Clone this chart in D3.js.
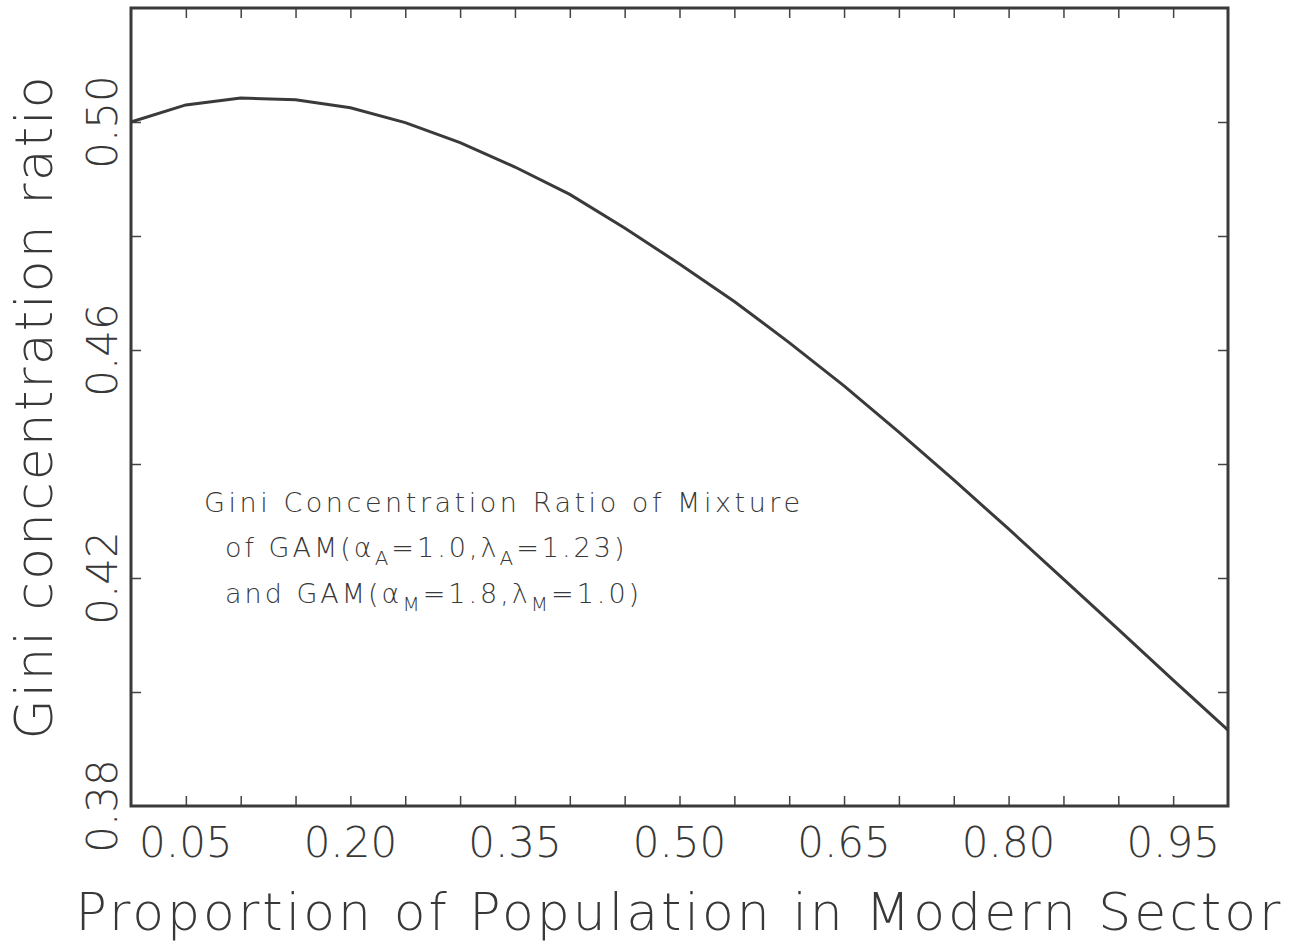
<!DOCTYPE html>
<html>
<head>
<meta charset="utf-8">
<script src="https://cdn.jsdelivr.net/npm/d3@7"></script>
<style>
  body { margin: 0; background: #fff; }
  text { font-family: "DejaVu Sans", sans-serif; font-weight: 200; fill: #383838; }
</style>
</head>
<body>
<script>
// proportion of population in modern sector
var share = [0, 0.05, 0.10, 0.15, 0.20, 0.25, 0.30, 0.35, 0.40, 0.45, 0.50,
             0.55, 0.60, 0.65, 0.70, 0.75, 0.80, 0.85, 0.90, 0.95, 1.0];
// gini concentration ratio of the mixture
var gini = [0.5000, 0.5030, 0.5042, 0.5039, 0.5025, 0.4999, 0.4964, 0.4921, 0.4873, 0.4814, 0.4751,
            0.4685, 0.4613, 0.4537, 0.4456, 0.4372, 0.4286, 0.4198, 0.4110, 0.4021, 0.3933];

var xTickValues = [0.05, 0.10, 0.15, 0.20, 0.25, 0.30, 0.35, 0.40, 0.45, 0.50,
                   0.55, 0.60, 0.65, 0.70, 0.75, 0.80, 0.85, 0.90, 0.95];
var xLabelValues = [0.05, 0.20, 0.35, 0.50, 0.65, 0.80, 0.95];
var yTickValues = [0.40, 0.42, 0.44, 0.46, 0.48, 0.50];
var yLabelValues = [0.38, 0.42, 0.46, 0.50];

var noteLines = ["Gini Concentration Ratio of Mixture",
                 "of GAM(", "and GAM("];

var width = 1302,
    height = 947;

var svg = d3.select("body")
    .append("svg")
    .attr("width", width)
    .attr("height", height);

//plot frame (pixel edges)
var frameL = 131, frameR = 1228, frameT = 8, frameB = 806;

var x = d3.scaleLinear().domain([0, 1]).range([frameL, frameR]);
var y = d3.scaleLinear().domain([0.38, 0.52]).range([frameB, frameT]);

//ticks pointing inward on all four sides
svg.append("g")
    .attr("transform", "translate(0," + frameB + ")")
    .call(d3.axisBottom(x).tickValues(xTickValues).tickSize(-10).tickFormat(""));
svg.append("g")
    .attr("transform", "translate(0," + frameT + ")")
    .call(d3.axisTop(x).tickValues(xTickValues).tickSize(-10).tickFormat(""));
svg.append("g")
    .attr("transform", "translate(" + frameL + ",0)")
    .call(d3.axisLeft(y).tickValues(yTickValues).tickSize(-10).tickFormat(""));
svg.append("g")
    .attr("transform", "translate(" + frameR + ",0)")
    .call(d3.axisRight(y).tickValues(yTickValues).tickSize(-10).tickFormat(""));

svg.selectAll(".domain").remove();
svg.selectAll(".tick line").attr("stroke", "#444").attr("stroke-width", 1.5);

svg.append("rect")
    .attr("x", frameL).attr("y", frameT)
    .attr("width", frameR - frameL).attr("height", frameB - frameT)
    .attr("fill", "none")
    .attr("stroke", "#3a3a3a")
    .attr("stroke-width", 3);

//tick labels
svg.selectAll(".xlab")
    .data(xLabelValues)
    .enter()
    .append("text")
    .attr("class", "xlab")
    .attr("x", function(d){ return x(d); })
    .attr("y", 857)
    .attr("text-anchor", "middle")
    .attr("font-size", 42)
    .text(function(d){ return d.toFixed(2); });

svg.selectAll(".ylab")
    .data(yLabelValues)
    .enter()
    .append("text")
    .attr("class", "ylab")
    .attr("transform", function(d){ return "translate(117," + y(d) + ") rotate(-90)"; })
    .attr("text-anchor", "middle")
    .attr("font-size", 42)
    .text(function(d){ return d.toFixed(2); });

//axis titles
svg.append("text")
    .attr("x", 678)
    .attr("y", 930)
    .attr("text-anchor", "middle")
    .attr("font-size", 52)
    .attr("textLength", 1205)
    .attr("lengthAdjust", "spacing")
    .text("Proportion of Population in Modern Sector");

svg.append("text")
    .attr("transform", "translate(52,408) rotate(-90)")
    .attr("text-anchor", "middle")
    .attr("font-size", 52)
    .attr("textLength", 663)
    .attr("lengthAdjust", "spacing")
    .text("Gini concentration ratio");

//the curve
var line = d3.line()
    .x(function(d, i){ return x(share[i]); })
    .y(function(d){ return y(d); });

svg.append("path")
    .datum(gini)
    .attr("fill", "none")
    .attr("stroke", "#3a3a3a")
    .attr("stroke-width", 3)
    .attr("d", line);

//annotation
var note = svg.append("g").attr("font-size", 27);

note.append("text")
    .attr("x", 204).attr("y", 512)
    .attr("textLength", 596)
    .attr("lengthAdjust", "spacing")
    .text(noteLines[0]);

function gamLine(yPos, start, sub, a, l){
    var t = note.append("text")
        .attr("x", 225).attr("y", yPos)
        .attr("letter-spacing", 3);
    t.append("tspan").text(start + "\u03b1");
    t.append("tspan").attr("font-size", 20).attr("dy", 8).text(sub);
    t.append("tspan").attr("dy", -8).text("=" + a + ",\u03bb");
    t.append("tspan").attr("font-size", 20).attr("dy", 8).text(sub);
    t.append("tspan").attr("dy", -8).text("=" + l + ")");
    return t;
}
gamLine(557, noteLines[1], "A", "1.0", "1.23");
gamLine(603, noteLines[2], "M", "1.8", "1.0");
</script>
</body>
</html>
